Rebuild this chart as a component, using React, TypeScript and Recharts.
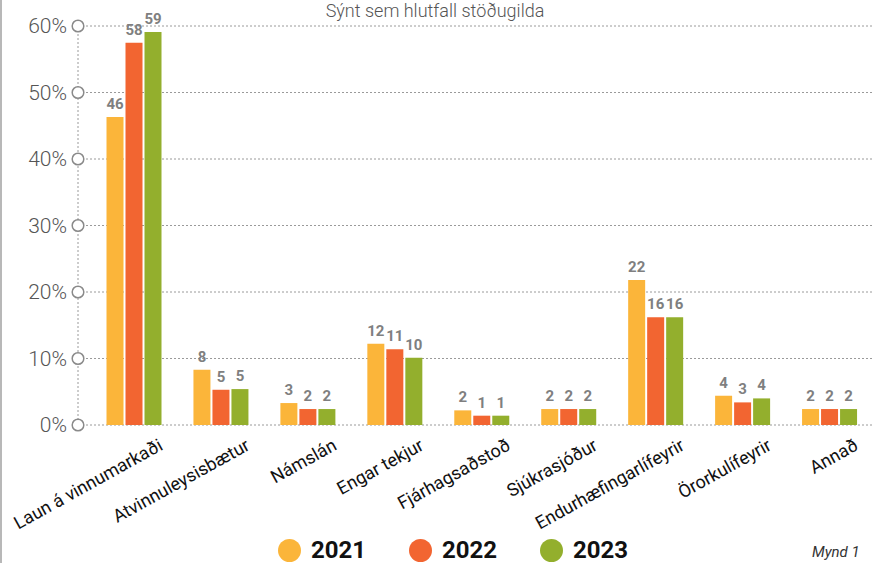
import React from "react";
import { BarChart, Bar, XAxis, YAxis, CartesianGrid, LabelList } from "recharts";

const categories = [
  "Laun á vinnumarkaði",
  "Atvinnuleysisbætur",
  "Námslán",
  "Engar tekjur",
  "Fjárhagsaðstoð",
  "Sjúkrasjóður",
  "Endurhæfingarlífeyrir",
  "Örorkulífeyrir",
  "Annað",
];
const values2021 = [46.3, 8.3, 3.3, 12.2, 2.2, 2.4, 21.8, 4.4, 2.4];
const values2022 = [57.5, 5.3, 2.4, 11.4, 1.4, 2.4, 16.2, 3.4, 2.4];
const values2023 = [59.1, 5.4, 2.4, 10.1, 1.4, 2.4, 16.2, 4.0, 2.4];
const yTicks = [0, 10, 20, 30, 40, 50, 60];
const seriesNames = ["2021", "2022", "2023"];
const colors = ["#FBB53A", "#F26531", "#93AF2D"];
const title = "Sýnt sem hlutfall stöðugilda";
const caption = "Mynd 1";

const data = categories.map((c, i) => ({
  name: c,
  y2021: values2021[i],
  y2022: values2022[i],
  y2023: values2023[i],
}));

const FONT = "Roboto, 'Open Sans', sans-serif";

const YTick = (props: any) => {
  const { x, y, payload } = props;
  return (
    <g>
      <text x={x - 11} y={y} dy={7} textAnchor="end" fontSize={21} fill="#555" fontFamily={FONT} fontWeight={300}>
        {`${payload.value}%`}
      </text>
      <circle cx={x} cy={y} r={5.8} fill="#fff" stroke="#8a8a8a" strokeWidth={1.5} />
    </g>
  );
};

const XTick = (props: any) => {
  const { x, y, payload } = props;
  return (
    <text
      transform={`translate(${x + 30},${y + 24}) rotate(-29)`}
      textAnchor="end"
      fontSize={18}
      fill="#111"
      fontFamily={FONT}
    >
      {payload.value}
    </text>
  );
};

const fmt = (v: any) => Math.round(Number(v));

export default function App() {
  return (
    <div style={{ position: "absolute", left: 0, top: 0, width: 873, height: 563, overflow: "hidden", background: "#fff" }}>
      <div style={{ position: "absolute", left: 0, top: 0, width: 2, height: 563, background: "#b8b8b8" }} />
      <svg style={{ position: "absolute", left: 0, top: 0 }} width={873} height={563}>
        <text x={435} y={17} textAnchor="middle" fontSize={18} fill="#555" fontFamily={FONT} fontWeight={300}>
          {title}
        </text>
        <text x={812} y={557} fontSize={15} fill="#333" fontStyle="italic" fontFamily={FONT}>
          {caption}
        </text>
      </svg>
      <div style={{ position: "absolute", left: 0, top: 0 }}>
        <BarChart
          width={873}
          height={563}
          data={data}
          margin={{ top: 26, right: 0, bottom: 0, left: 0 }}
          barSize={17}
          barGap={2}
        >
          <CartesianGrid vertical={false} stroke="#9a9a9a" strokeDasharray="2 2" />
          <XAxis
            dataKey="name"
            axisLine={false}
            tickLine={false}
            tickSize={0}
            tickMargin={0}
            interval={0}
            padding={{ left: 12.5, right: 0 }}
            tick={<XTick />}
            height={138}
          />
          <YAxis
            width={78}
            domain={[0, 60]}
            ticks={yTicks}
            axisLine={{ stroke: "#9a9a9a", strokeDasharray: "2 2" }}
            tickLine={false}
            tickSize={0}
            tickMargin={0}
            tick={<YTick />}
          />
          {["y2021", "y2022", "y2023"].map((k, i) => (
            <Bar key={k} dataKey={k} name={seriesNames[i]} fill={colors[i]} isAnimationActive={false}>
              <LabelList
                dataKey={k}
                position="top"
                offset={8}
                formatter={fmt}
                fill="#7f7f80"
                fontSize={15}
                fontWeight={700}
                fontFamily={FONT}
              />
            </Bar>
          ))}
        </BarChart>
      </div>
      <div style={{ position: "absolute", left: 278, top: 538, display: "flex", alignItems: "center" }}>
        {seriesNames.map((s, i) => (
          <div key={s} style={{ display: "flex", alignItems: "center", width: 131 }}>
            <div style={{ width: 23, height: 23, borderRadius: "50%", background: colors[i] }} />
            <span style={{ marginLeft: 10, fontSize: 24, fontWeight: 700, color: "#111", fontFamily: FONT, lineHeight: "24px" }}>{s}</span>
          </div>
        ))}
      </div>
    </div>
  );
}
